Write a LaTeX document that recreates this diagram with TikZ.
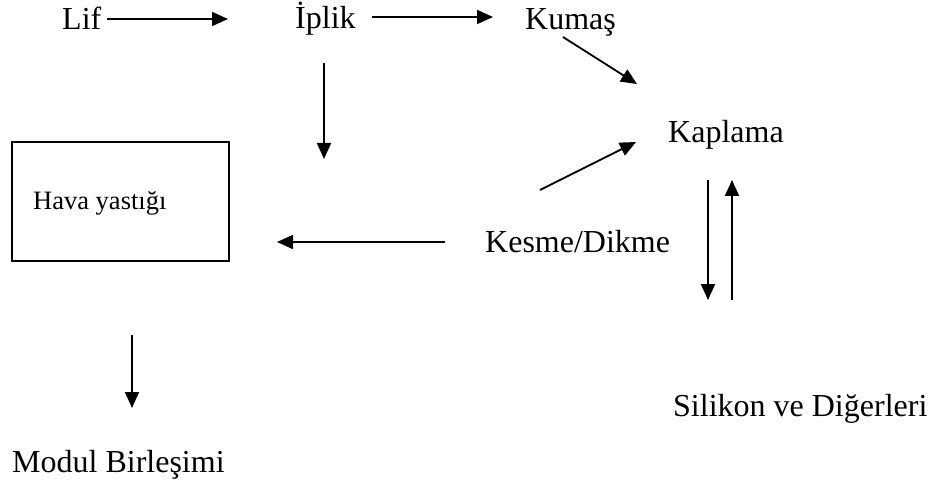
\documentclass[tikz,border=0pt]{standalone}
\usepackage{fontspec}
\setmainfont{Liberation Serif}
\usetikzlibrary{arrows.meta}

\begin{document}
\begin{tikzpicture}[x=1pt,y=-1pt,
  lbl/.style={anchor=base west,inner sep=0pt,font=\fontsize{32}{36}\selectfont},
  akis/.style={-{Triangle[length=16pt,width=14pt]},line width=1.8pt}]
\useasboundingbox (0,0) rectangle (930,484);
\node[lbl](lif)at(62,30){Lif};
\node[lbl](iplik)at(295,29){İplik};
\node[lbl](kumas)at(525,30){Kumaş};
\node[lbl](kaplama)at(668,143){Kaplama};
\node[lbl](kesme)at(485,252){Kesme/Dikme};
\node[lbl](silikon)at(673,416){Silikon ve Diğerleri};
\node[lbl](modul)at(12,472){Modul Birleşimi};
\node[draw,line width=1.8pt,minimum width=217pt,minimum height=119pt](kutu)at(120.5,201.5){};
\node[anchor=base west,inner sep=0pt,font=\fontsize{26.5}{30}\selectfont](hava)at(33,210){Hava yastığı};
% ok uclari
\coordinate(a1)at(107,19);\coordinate(a2)at(228,19);
\coordinate(b1)at(372,17);\coordinate(b2)at(493,17);
\coordinate(c1)at(563,37);\coordinate(c2)at(637,84);
\coordinate(d1)at(324,63);\coordinate(d2)at(324,159);
\coordinate(e1)at(540,190);\coordinate(e2)at(636,142);
\coordinate(f1)at(445,242);\coordinate(f2)at(277,242);
\coordinate(g1)at(708,180);\coordinate(g2)at(708,300);
\coordinate(h1)at(732,300);\coordinate(h2)at(732,180);
\coordinate(k1)at(132,335);\coordinate(k2)at(132,408);
\draw[akis](a1)--(a2);
\draw[akis](b1)--(b2);
\draw[akis](c1)--(c2);
\draw[akis](d1)--(d2);
\draw[akis](e1)--(e2);
\draw[akis](f1)--(f2);
\draw[akis](g1)--(g2);
\draw[akis](h1)--(h2);
\draw[akis](k1)--(k2);
\end{tikzpicture}
\end{document}
